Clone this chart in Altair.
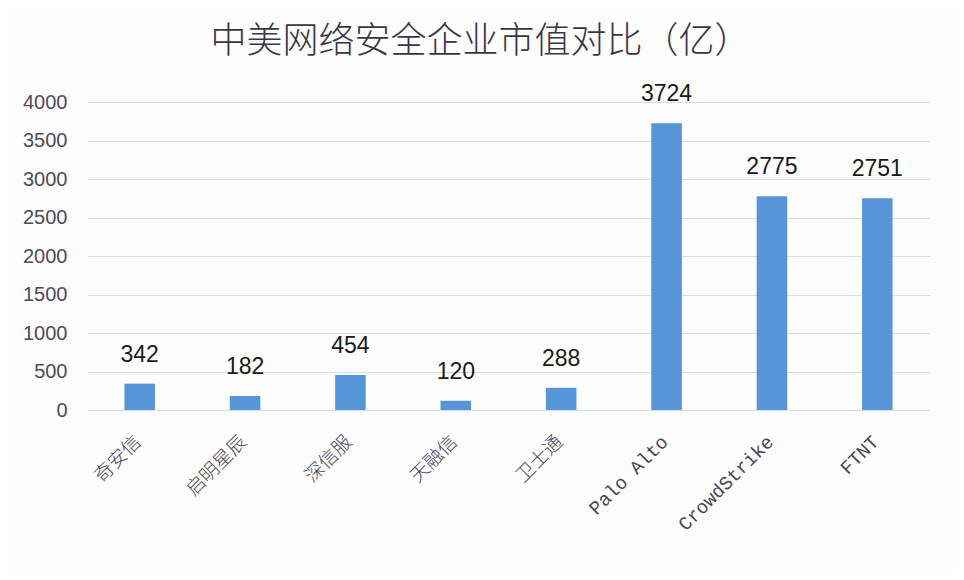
import altair as alt
import pandas as pd

companies = ["奇安信", "启明星辰", "深信服", "天融信", "卫士通", "Palo Alto", "CrowdStrike", "FTNT"]
market_cap = [342, 182, 454, 120, 288, 3724, 2775, 2751]
y_ticks = [0, 500, 1000, 1500, 2000, 2500, 3000, 3500, 4000]

df = pd.DataFrame({"company": companies, "value": market_cap})

x_enc = alt.X(
    "company:N",
    sort=companies,
    scale=alt.Scale(paddingInner=0.71, paddingOuter=0.355),
    axis=alt.Axis(
        title=None,
        labelAngle=-45,
        labelFont="Liberation Mono, Noto Sans CJK SC",
        labelFontSize=19,
        labelFontWeight=300,
        labelColor="#4a4458",
        labelPadding=22,
        labelOffset=-8,
        ticks=False,
        domain=False,
        grid=False,
    ),
)

y_enc = alt.Y(
    "value:Q",
    scale=alt.Scale(domain=[0, 4000], nice=False),
    axis=alt.Axis(
        title=None,
        values=y_ticks,
        format="d",
        labelOverlap=False,
        labelFlush=False,
        labelFont="Liberation Sans",
        labelFontSize=20,
        labelColor="#4f4a5a",
        labelPadding=20,
        ticks=False,
        domain=False,
        grid=True,
        gridColor="#d9dde3",
        gridWidth=1.2,
    ),
)

base = alt.Chart(df).encode(x=x_enc, y=y_enc)

bars = base.mark_bar(color="#5796d6")

labels = base.mark_text(
    baseline="alphabetic",
    dy=-22,
    font="Liberation Sans",
    fontSize=23,
    color="#1a1a1a",
).encode(text="value:Q")

chart = (
    alt.layer(bars, labels)
    .properties(
        width=843,
        height=308,
        padding={"left": 79, "top": 94, "right": 26, "bottom": 160},
        autosize=alt.AutoSizeParams(type="none"),
        background="#fdfdfe",
        title=alt.TitleParams(
            text="中美网络安全企业市值对比（亿）",
            font="Noto Sans CJK SC",
            fontSize=36,
            fontWeight=300,
            color="#3a3646",
            anchor="middle",
            dx=-28,
            offset=22,
        ),
    )
    .configure_view(stroke=None)
)

chart.save("out.html", embed_options={"renderer": "svg", "actions": False})
